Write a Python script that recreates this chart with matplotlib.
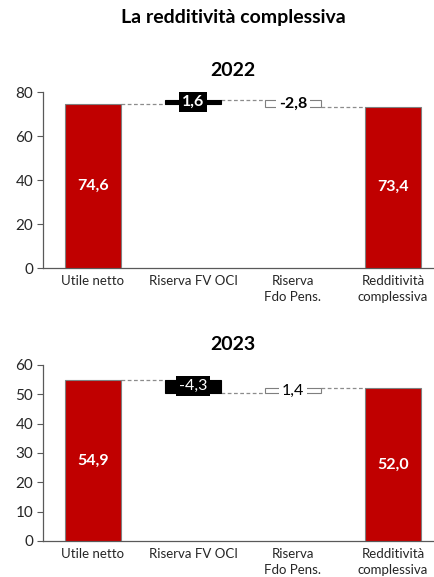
import matplotlib
matplotlib.use("Agg")
import matplotlib.pyplot as plt

categories = ["Utile netto", "Riserva FV OCI", "Riserva\nFdo Pens.", "Redditività\ncomplessiva"]
values_2022 = [74.6, 1.6, -2.8, 73.4]
values_2023 = [54.9, -4.3, 1.4, 52.0]
labels_2022 = ["74,6", "1,6", "-2,8", "73,4"]
labels_2023 = ["54,9", "-4,3", "1,4", "52,0"]
yticks_2022 = [0, 20, 40, 60, 80]
yticks_2023 = [0, 10, 20, 30, 40, 50, 60]

plt.rcParams['font.family'] = ['Lato', 'DejaVu Sans']

W, H = 435, 577
fig = plt.figure(figsize=(W / 100, H / 100), dpi=100)

RED = "#C00000"
AX_COL = "#595959"
TXT = "#262626"
BW = 0.56


def panel(top_px, bot_px, values, labels, yticks, ymax, bold_delta, title):
    ax = fig.add_axes([43 / W, (H - bot_px) / H, 400 / W, (bot_px - top_px) / H])
    x = list(range(len(values)))
    n = len(values)
    bottoms = [0]
    heights = [values[0]]
    levels = [values[0]]
    cum = values[0]
    for v in values[1:-1]:
        bottoms.append(cum)
        heights.append(v)
        cum += v
        levels.append(cum)
    bottoms.append(0)
    heights.append(values[-1])

    for i in x:
        if i == 0 or i == n - 1:
            ax.bar(i, heights[i], bottom=bottoms[i], width=BW, color=RED,
                   edgecolor="#7f7f7f", linewidth=0.8, zorder=3)
            ax.text(i, heights[i] / 2, labels[i], color="white", fontweight="bold",
                    ha="center", va="center", fontsize=11.5, zorder=5)
        else:
            if i == 1:
                fc, ec, tc = "black", "black", "white"
            else:
                fc, ec, tc = "white", "#7f7f7f", "black"
            ax.bar(i, heights[i], bottom=bottoms[i], width=BW, color=fc,
                   edgecolor=ec, linewidth=0.8, zorder=3)
            ax.text(i, bottoms[i] + heights[i] / 2, labels[i], color=tc,
                    fontweight="bold" if bold_delta else "normal",
                    ha="center", va="center", fontsize=11.5, zorder=5,
                    bbox=dict(boxstyle="square,pad=0.2", fc=fc, ec="none"))
    for i in range(n - 1):
        ax.plot([i + BW / 2, i + 1 - BW / 2], [levels[i], levels[i]],
                ls=(0, (3, 2)), color="#8c8c8c", lw=0.9, zorder=2)

    ax.set_xlim(-0.5, 3.5)
    ax.set_ylim(0, ymax)
    ax.set_yticks(yticks)
    ax.set_xticks(x)
    ax.set_xticklabels(categories, fontsize=9.5, color=TXT, linespacing=1.45)
    ax.tick_params(axis="x", length=0, pad=5)
    ax.tick_params(axis="y", length=4, width=0.8, color=AX_COL, labelsize=11, labelcolor=TXT, pad=3)
    for s in ("top", "right"):
        ax.spines[s].set_visible(False)
    for s in ("left", "bottom"):
        ax.spines[s].set_color(AX_COL)
        ax.spines[s].set_linewidth(0.9)
    fig.text(233 / W, 1 - (top_px - 21) / H, title, ha="center", va="center",
             fontsize=14, fontweight="bold", color="black")
    return ax


fig.text(233 / W, 1 - 17 / H, "La redditività complessiva", ha="center", va="center",
         fontsize=14, fontweight="bold", color="black")
panel(92, 268, values_2022, labels_2022, yticks_2022, 80, True, "2022")
panel(365, 541, values_2023, labels_2023, yticks_2023, 60, False, "2023")

fig.savefig("out.png", dpi=100)
